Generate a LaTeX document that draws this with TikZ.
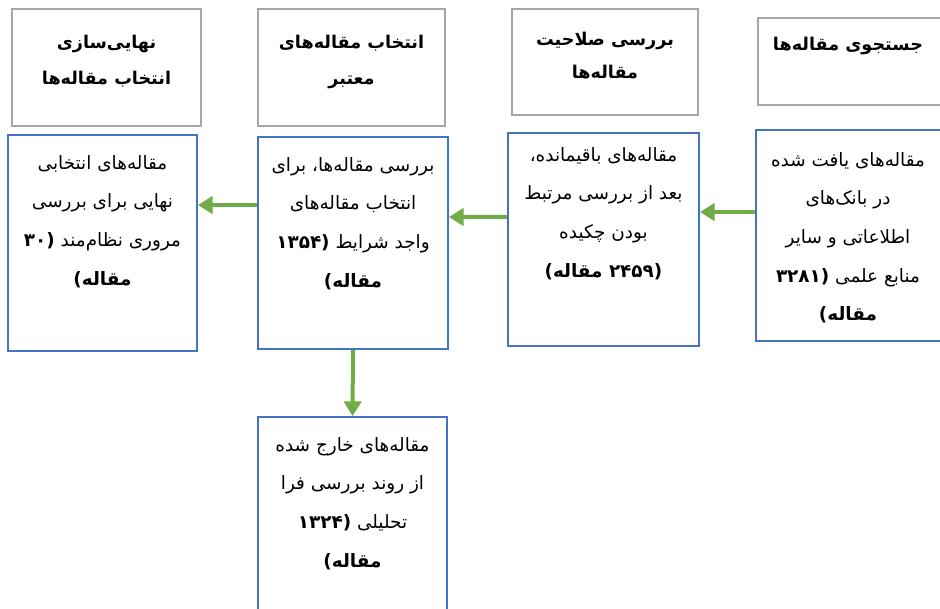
\documentclass[tikz,border=0pt]{standalone}
\usepackage{fontspec}
\setmainfont{DejaVu Sans}
\newfontfamily\fa[Script=Arabic]{DejaVu Sans}
\TeXXeTstate=1
\usetikzlibrary{arrows.meta}
\definecolor{boxblue}{HTML}{4472C4}
\definecolor{boxgray}{HTML}{A6A6A6}
\definecolor{flowgreen}{HTML}{70AD47}
\newcommand{\rl}[1]{\beginR #1\endR}
\begin{document}
\begin{tikzpicture}[x=0.75pt, y=-0.75pt,
  boxsize/.style 2 args={minimum width=#1*0.75pt, minimum height=#2*0.75pt},
  stagebox/.style={draw=boxgray, line width=2.2pt, inner sep=0pt},
  infobox/.style={draw=boxblue, line width=1.5pt, inner sep=0pt},
  boxtext/.style={anchor=north, align=center, inner sep=0pt, font=\fa\fontsize{13.8}{29}\selectfont},
  headtext/.style={anchor=north, align=center, inner sep=0pt, font=\fa\bfseries\fontsize{13.2}{27}\selectfont},
  flow/.style={draw=flowgreen, line width=3pt, -{Triangle[length=11pt,width=13pt]}}]
  \useasboundingbox (0,0) rectangle (940,608);
  \clip (0,0) rectangle (940,608);

  % stage headings
  \node[stagebox, boxsize={189}{117}] (finalhead) at (106.5,67.5) {};
  \node[stagebox, boxsize={187}{117}] (validhead) at (351.5,67.5) {};
  \node[stagebox, boxsize={186}{106}] (checkhead) at (605,62) {};
  \node[stagebox, boxsize={202}{87}] (searchhead) at (859,61.5) {};
  \node[headtext] (finalheadtxt) at (106.5,35) {\rl{نهایی‌سازی}\\\rl{انتخاب مقاله‌ها}};
  \node[headtext] (validheadtxt) at (351.5,35) {\rl{انتخاب مقاله‌های}\\\rl{معتبر}};
  \node[headtext, font=\fa\bfseries\fontsize{13.2}{25}\selectfont] (checkheadtxt) at (605,32) {\rl{بررسی صلاحیت}\\\rl{مقاله‌ها}};
  \node[headtext] (searchheadtxt) at (848,37) {\rl{جستجوی مقاله‌ها}};

  % stage contents
  \node[infobox, boxsize={189}{216}] (final) at (102.5,243) {};
  \node[infobox, boxsize={190}{212}] (valid) at (353,243) {};
  \node[infobox, boxsize={191}{213}] (remain) at (603.5,239.5) {};
  \node[infobox, boxsize={204}{211}] (found) at (858,235.5) {};
  \node[infobox, boxsize={189}{223}] (excluded) at (352.5,528.5) {};

  \node[boxtext] (finaltxt) at (102.5,155) {\rl{مقاله‌های انتخابی}\\\rl{نهایی برای بررسی}\\
    \rl{مروری نظام‌مند \textbf{(۳۰}}\\\rl{\textbf{مقاله)}}};
  \node[boxtext] (validtxt) at (353,157) {\rl{بررسی مقاله‌ها، برای}\\\rl{انتخاب مقاله‌های}\\
    \rl{واجد شرایط \textbf{(۱۳۵۴}}\\\rl{\textbf{مقاله)}}};
  \node[boxtext] (remaintxt) at (603.5,147) {\rl{مقاله‌های باقیمانده،}\\\rl{بعد از بررسی مرتبط}\\
    \rl{بودن چکیده}\\\rl{\textbf{(۲۴۵۹ مقاله)}}};
  \node[boxtext] (foundtxt) at (848,152) {\rl{مقاله‌های یافت شده}\\\rl{در بانک‌های}\\
    \rl{اطلاعاتی و سایر}\\\rl{منابع علمی \textbf{(۳۲۸۱}}\\\rl{\textbf{مقاله)}}};
  \node[boxtext] (excludedtxt) at (352.5,437) {\rl{مقاله‌های خارج شده}\\\rl{از روند بررسی فرا}\\
    \rl{تحلیلی \textbf{(۱۳۲۴}}\\\rl{\textbf{مقاله)}}};

  % flow
  \draw[flow] ([yshift=17.6pt]found.west) -- ([yshift=20.6pt]remain.east);
  \draw[flow] ([yshift=16.9pt]remain.west) -- ([yshift=19.5pt]valid.east);
  \draw[flow] ([yshift=28.5pt]valid.west) -- ([yshift=28.5pt]final.east);
  \draw[flow] (valid.south) -- (excluded.north);
\end{tikzpicture}
\end{document}
